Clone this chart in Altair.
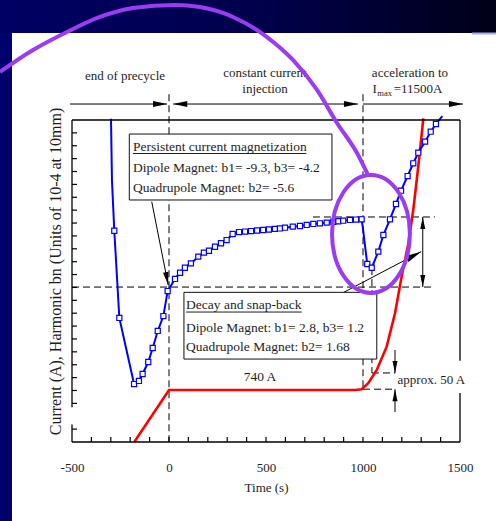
import altair as alt
import pandas as pd

# ---------------- data (time in s, harmonic / current in plot units) ----------------
blue_t = [-299, -294, -282, -256, -180, -155, -136, -107, -84, -58, -29, -7,
          31, 57, 82, 113, 151, 180, 206, 237, 268, 297, 328, 361, 392, 423,
          454, 485, 515, 546, 572, 598, 638, 675, 710, 744, 778, 813, 847,
          873, 898, 933, 964, 993, 998.5, 1022, 1045, 1079, 1105, 1139, 1170,
          1196, 1230, 1259, 1285, 1320, 1349, 1376, 1409]
blue_v = [25.1, 20.3, 16.4, 9.63, 4.5, 4.74, 5.28, 6.21, 7.3, 8.62, 9.78, 11.72,
          12.66, 13.14, 13.53, 13.87, 14.39, 14.7, 14.85, 15.16, 15.43, 15.68, 16.15, 16.3, 16.34, 16.38,
          16.42, 16.46, 16.5, 16.55, 16.58, 16.64, 16.72, 16.77, 16.85, 16.93, 16.98, 17.03, 17.1,
          17.14, 17.18, 17.24, 17.27, 17.29, 16.72, 13.82, 13.53, 14.78, 16.07, 17.29, 18.48,
          19.51, 20.65, 21.64, 22.46, 23.32, 24.09, 24.69, 25.3]
blue_m = [0, 0, 1, 1, 1, 1, 1, 1, 1, 1, 1, 1,
          1, 1, 1, 1, 1, 1, 1, 1, 1, 1, 1, 1, 1, 1,
          1, 1, 1, 1, 1, 1, 1, 1, 1, 1, 1, 1, 1,
          1, 1, 1, 1, 1, 0, 1, 1, 1, 1, 1, 1,
          1, 1, 1, 1, 1, 1, 1, 0]

red_t = [-179, 0, 923, 959, 993, 1027, 1071, 1122, 1165, 1199, 1234, 1259, 1277, 1294, 1311]
red_v = [0, 4.04, 4.04, 4.04, 4.1, 4.56, 5.59, 7.4, 9.99, 12.83, 15.43, 18.01, 20.34, 22.67, 25.13]

x_tick_vals = [-400, -300, -200, -100, 0, 100, 200, 300, 400, 500, 600, 700, 800, 900,
               1000, 1100, 1200, 1300, 1400]
y_tick_vals = [1, 3, 4, 5, 6, 7, 8, 9, 10, 11, 12, 13, 14, 15, 16, 17, 18, 19, 20, 21, 22, 23, 24]
x_label_vals = [-500, 0, 500, 1000, 1500]

# dashed guide lines
dash_t1 = [0, 1000, -500, 742, 1046, 1046, 1000]
dash_v1 = [27.0, 27.0, 12.03, 17.47, 13.5, 5.36, 4.1]
dash_t2 = [0, 1000, 1371, 1371, 1046, 1165, 1165]
dash_v2 = [0, 4.1, 12.03, 17.47, 5.36, 5.36, 4.1]

# solid arrow shafts
sol_t1 = [-510, 22, 1000, -89, 897, 1308, 1165, 1165]
sol_v1 = [26.24, 26.24, 26.24, 18.66, 11.59, 17.47, 7.14, 2.33]
sol_t2 = [-10, 974, 1515, -4, 1300, 1308, 1165, 1165]
sol_v2 = [26.24, 26.24, 26.24, 12.19, 14.78, 12.03, 5.36, 4.1]

# arrow heads (tip position, direction, size)
head_t = [-10, 22, 974, 1515, -4, 1300, 1308, 1308, 1165, 1165]
head_v = [26.24, 26.24, 26.24, 26.24, 12.19, 14.78, 17.47, 12.03, 5.36, 4.1]
head_a = [0, 180, 0, 0, 78.7, 332.5, 270, 90, 90, 270]
head_s = [196, 196, 196, 196, 169, 256, 144, 144, 144, 144]

# annotation boxes
box_t1 = [-204.6, 77]
box_t2 = [840, 1071]
box_v1 = [23.91, 11.62]
box_v2 = [18.79, 6.44]

box_text = ["Persistent current magnetization", "Dipole Magnet: b1= -9.3, b3= -4.2",
            "Quadrupole Magnet: b2= -5.6", "Decay and snap-back",
            "Dipole Magnet: b1= 2.8, b3= 1.2", "Quadrupole Magnet: b2= 1.68"]
box_text_t = [-186, -186, -186, 88, 88, 88]
box_text_v = [22.59, 20.99, 19.43, 10.29, 8.56, 7.07]

ul_t1 = [-186, 88]
ul_t2 = [708, 684]
ul_v = [22.4, 10.09]

head_text = ["end of precycle", "constant current", "injection", "acceleration to", "I"]
head_text_t = [-227, 495, 495, 1242, 1072]
head_text_v = [28.11, 28.32, 27.1, 28.32, 27.1]
head_text_align = ["center", "center", "center", "center", "right"]

misc_text = ["=11500A", "approx. 50 A"]
misc_text_t = [1158, 1178]
misc_text_v = [27.1, 4.48]

# purple hand-drawn highlight
arc_t = [-871, -701, -526, -356, -186, 31, 160, 330, 505, 639, 763, 866, 969, 1026]
arc_v = [28.73, 30.43, 31.83, 33.0, 33.7, 33.93, 33.77, 33.0, 31.44, 29.66, 27.33, 24.77, 22.44, 20.73]
ell_t = [1041]
ell_v = [16.15]

# ---------------- styling ----------------
FONT = "Liberation Serif"
TXT = "#1e1e1e"
PURPLE = "#9a3cf0"

xscale = alt.Scale(domain=[-500, 1500], nice=False, zero=False)
yscale = alt.Scale(domain=[0, 25], nice=False, zero=False)
xaxis = alt.Axis(values=x_label_vals, ticks=False, domain=False, grid=False, zindex=2,
                 labelFont=FONT, labelFontSize=13, labelColor=TXT, labelPadding=19,
                 labelFlush=False, labelOverlap=False, labelExpr="'' + datum.value",
                 title="Time (s)", titleFont=FONT, titleFontSize=13, titleFontWeight="normal",
                 titleColor=TXT, titleX=194, titleY=45, titleBaseline="middle", titleAlign="center")
yaxis = alt.Axis(labels=False, ticks=False, domain=False, grid=False, zindex=2,
                 title="Current (A), Harmonic bn (Units of 10-4 at 10mm)", titleFont=FONT,
                 titleFontSize=16, titleFontWeight="normal", titleColor=TXT, titleAngle=270,
                 titleX=-17, titleY=151, titleBaseline="middle", titleAlign="center")


def X(f):
    return alt.X(f, type="quantitative", scale=xscale, axis=xaxis)


def Y(f):
    return alt.Y(f, type="quantitative", scale=yscale, axis=yaxis)


one = pd.DataFrame({"k": [0]})

# ---------------- background ----------------
top_band = alt.Chart(one).mark_rect(
    fill=alt.LinearGradient(gradient="linear", x1=0, x2=1, y1=0, y2=0,
                            stops=[alt.GradientStop(offset=0, color="#000064"),
                                   alt.GradientStop(offset=0.55, color="#00004a"),
                                   alt.GradientStop(offset=1, color="#000018")])
).encode(x=alt.value(-72), x2=alt.value(424), y=alt.value(-120), y2=alt.value(-87))
left_strip = alt.Chart(one).mark_rect(fill="#00006c").encode(
    x=alt.value(-72), x2=alt.value(-60), y=alt.value(-87), y2=alt.value(401))
panel = alt.Chart(one).mark_rect(fill="white").encode(
    x=alt.value(-60), x2=alt.value(424), y=alt.value(-87), y2=alt.value(401))
glint = alt.Chart(one).mark_rule(color="#aaaaf4", strokeWidth=2).encode(
    x=alt.value(400), x2=alt.value(424), y=alt.value(-86.5))

# ---------------- guides ----------------
dash_df = pd.DataFrame({"t1": dash_t1, "v1": dash_v1, "t2": dash_t2, "v2": dash_v2})
dashes = alt.Chart(dash_df).mark_rule(color="black", strokeWidth=1, strokeDash=[7, 4]).encode(
    x=X("t1"), y=Y("v1"), x2=alt.X2("t2"), y2=alt.Y2("v2"))

sol_df = pd.DataFrame({"t1": sol_t1, "v1": sol_v1, "t2": sol_t2, "v2": sol_v2})
shafts = alt.Chart(sol_df).mark_rule(color="black", strokeWidth=1).encode(
    x=X("t1"), y=Y("v1"), x2=alt.X2("t2"), y2=alt.Y2("v2"))

HEAD = "M0,0L-2,-0.42L-2,0.42Z"
head_df = pd.DataFrame({"t": head_t, "v": head_v, "a": head_a, "s": head_s})
heads = alt.Chart(head_df).mark_point(shape=HEAD, filled=True, color="black", opacity=1,
                                      strokeWidth=0).encode(
    x=X("t"), y=Y("v"), angle=alt.Angle("a:Q", scale=None), size=alt.Size("s:Q", scale=None))

box_df = pd.DataFrame({"t1": box_t1, "t2": box_t2, "v1": box_v1, "v2": box_v2})
boxes = alt.Chart(box_df).mark_rect(fill="white", stroke="#111111", strokeWidth=1).encode(
    x=X("t1"), x2=alt.X2("t2"), y=Y("v1"), y2=alt.Y2("v2"))

bt_df = pd.DataFrame({"txt": box_text, "t": box_text_t, "v": box_text_v})
box_texts = alt.Chart(bt_df).mark_text(font=FONT, fontSize=13.5, color=TXT, align="left",
                                       baseline="alphabetic").encode(
    x=X("t"), y=Y("v"), text="txt:N")

ul_df = pd.DataFrame({"t1": ul_t1, "t2": ul_t2, "v": ul_v})
underlines = alt.Chart(ul_df).mark_rule(color=TXT, strokeWidth=1).encode(
    x=X("t1"), x2=alt.X2("t2"), y=Y("v"))

ht_df = pd.DataFrame({"txt": head_text, "t": head_text_t, "v": head_text_v, "al": head_text_align})
head_texts_c = alt.Chart(ht_df).transform_filter("datum.al == 'center'").mark_text(
    font=FONT, fontSize=13, color=TXT, align="center", baseline="alphabetic").encode(
    x=X("t"), y=Y("v"), text="txt:N")
head_texts_r = alt.Chart(ht_df).transform_filter("datum.al == 'right'").mark_text(
    font=FONT, fontSize=13, color=TXT, align="right", baseline="alphabetic").encode(
    x=X("t"), y=Y("v"), text="txt:N")
sub_df = pd.DataFrame({"txt": ["max"], "t": [1074], "v": [26.86]})
sub_text = alt.Chart(sub_df).mark_text(font=FONT, fontSize=8.5, color=TXT, align="left",
                                       baseline="alphabetic").encode(
    x=X("t"), y=Y("v"), text="txt:N")
mt_df = pd.DataFrame({"txt": misc_text, "t": misc_text_t, "v": misc_text_v})
misc_texts = alt.Chart(mt_df).mark_text(font=FONT, fontSize=13, color=TXT, align="left",
                                        baseline="alphabetic").encode(
    x=X("t"), y=Y("v"), text="txt:N")
lab740 = alt.Chart(pd.DataFrame({"txt": ["740 A"], "t": [469], "v": [4.74]})).mark_text(
    font=FONT, fontSize=13.5, color=TXT, align="center", baseline="alphabetic").encode(
    x=X("t"), y=Y("v"), text="txt:N")

# ---------------- data curves ----------------
red_df = pd.DataFrame({"t": red_t, "v": red_v})
red = alt.Chart(red_df).mark_line(color="#ff0000", strokeWidth=2.6).encode(
    x=X("t"), y=Y("v"), order="t:Q")

blue_df = pd.DataFrame({"t": blue_t, "v": blue_v, "m": blue_m})
blue = alt.Chart(blue_df).mark_line(color="#0000ff", strokeWidth=2).encode(
    x=X("t"), y=Y("v"), order="t:Q")
blue_pts = alt.Chart(blue_df).transform_filter("datum.m == 1").mark_point(
    shape="square", size=26, filled=False, fill="white", fillOpacity=1, color="#0000ff",
    strokeWidth=1.2, opacity=1).encode(x=X("t"), y=Y("v"))

# ---------------- frame and ticks ----------------
frame_df = pd.DataFrame({"t1": [-500, -500, 1500, 1500, -500, -500],
                         "t2": [1500, 1500, 1500, 1500, -500, -500],
                         "v1": [25, 0, 0, 6.3, 25, 1.35],
                         "v2": [25, 0, 3.8, 25, 2.7, 0]})
frame = alt.Chart(frame_df).mark_rule(color="black", strokeWidth=1.3).encode(
    x=X("t1"), x2=alt.X2("t2"), y=Y("v1"), y2=alt.Y2("v2"))
xt = alt.Chart(pd.DataFrame({"t": x_tick_vals})).mark_rule(color="black", strokeWidth=1.2).encode(
    x=X("t"), y=alt.value(322), y2=alt.value(317))
yt = alt.Chart(pd.DataFrame({"v": y_tick_vals})).mark_rule(color="black", strokeWidth=1.2).encode(
    y=Y("v"), x=alt.value(0), x2=alt.value(5))

# ---------------- purple highlight ----------------
arc = alt.Chart(pd.DataFrame({"t": arc_t, "v": arc_v})).mark_line(
    color=PURPLE, strokeWidth=4, interpolate="monotone").encode(x=X("t"), y=Y("v"), order="t:Q")
ELL = ("M0.66,0C0.66,0.5523,0.3645,1,0,1C-0.3645,1,-0.66,0.5523,-0.66,0"
       "C-0.66,-0.5523,-0.3645,-1,0,-1C0.3645,-1,0.66,-0.5523,0.66,0Z")
ellipse = alt.Chart(pd.DataFrame({"t": ell_t, "v": ell_v})).mark_point(
    shape=ELL, size=13924, filled=False, color=PURPLE, strokeWidth=4, opacity=1).encode(
    x=X("t"), y=Y("v"))

chart = alt.layer(
    top_band, left_strip, panel, glint,
    dashes, shafts, heads, boxes, box_texts, underlines, lab740, misc_texts,
    red, blue, blue_pts, frame, xt, yt,
    head_texts_c, head_texts_r, sub_text, arc, ellipse
).properties(
    width=388, height=322,
    autosize=alt.AutoSizeParams(type="none"),
    padding={"left": 72, "top": 120, "right": 36, "bottom": 79},
    background="#00005a"
).configure_view(stroke=None)

chart.save("out.html", embed_options={"renderer": "svg", "actions": False})
